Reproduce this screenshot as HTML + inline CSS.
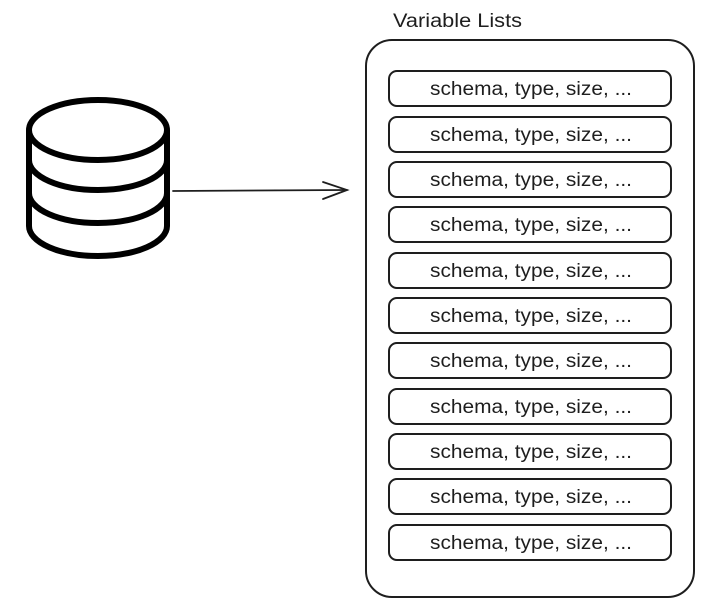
<!DOCTYPE html>
<html><head><style>
html,body{margin:0;padding:0;background:#fff;width:706px;height:608px;overflow:hidden}
text{font-family:"Liberation Sans",sans-serif;fill:#1e1e1e}
</style></head><body>
<svg width="706" height="608" viewBox="0 0 706 608" xmlns="http://www.w3.org/2000/svg">
<g fill="none" stroke="#000" stroke-width="6">
<path d="M29,130 L29,226 A69,30 0 0 0 167,226 L167,130"/>
<ellipse cx="98" cy="130" rx="69" ry="30"/>
<path d="M29,160 A69,30 0 0 0 167,160"/>
<path d="M29,193 A69,30 0 0 0 167,193"/>
</g>
<g fill="none" stroke="#1e1e1e" stroke-width="1.8" stroke-linecap="round">
<path d="M173,191 L347,190"/>
<path d="M323,182 L347,190 L323,199"/>
</g>
<text x="393" y="27" font-size="19" textLength="129" lengthAdjust="spacingAndGlyphs">Variable Lists</text>
<rect x="366" y="40" width="328" height="557" rx="26" fill="none" stroke="#1e1e1e" stroke-width="2"/>
<g fill="none" stroke="#1e1e1e" stroke-width="2">
<rect x="389" y="71" width="282" height="35" rx="8"/>
<rect x="389" y="117" width="282" height="35" rx="8"/>
<rect x="389" y="162" width="282" height="35" rx="8"/>
<rect x="389" y="207" width="282" height="35" rx="8"/>
<rect x="389" y="253" width="282" height="35" rx="8"/>
<rect x="389" y="298" width="282" height="35" rx="8"/>
<rect x="389" y="343" width="282" height="35" rx="8"/>
<rect x="389" y="389" width="282" height="35" rx="8"/>
<rect x="389" y="434" width="282" height="35" rx="8"/>
<rect x="389" y="479" width="282" height="35" rx="8"/>
<rect x="389" y="525" width="282" height="35" rx="8"/>
</g>
<g font-size="19" textLength="202" lengthAdjust="spacingAndGlyphs">
<text x="430" y="95" textLength="202" lengthAdjust="spacingAndGlyphs">schema, type, size, ...</text>
<text x="430" y="141" textLength="202" lengthAdjust="spacingAndGlyphs">schema, type, size, ...</text>
<text x="430" y="186" textLength="202" lengthAdjust="spacingAndGlyphs">schema, type, size, ...</text>
<text x="430" y="231" textLength="202" lengthAdjust="spacingAndGlyphs">schema, type, size, ...</text>
<text x="430" y="277" textLength="202" lengthAdjust="spacingAndGlyphs">schema, type, size, ...</text>
<text x="430" y="322" textLength="202" lengthAdjust="spacingAndGlyphs">schema, type, size, ...</text>
<text x="430" y="367" textLength="202" lengthAdjust="spacingAndGlyphs">schema, type, size, ...</text>
<text x="430" y="413" textLength="202" lengthAdjust="spacingAndGlyphs">schema, type, size, ...</text>
<text x="430" y="458" textLength="202" lengthAdjust="spacingAndGlyphs">schema, type, size, ...</text>
<text x="430" y="503" textLength="202" lengthAdjust="spacingAndGlyphs">schema, type, size, ...</text>
<text x="430" y="549" textLength="202" lengthAdjust="spacingAndGlyphs">schema, type, size, ...</text>
</g>
</svg>
</body></html>
